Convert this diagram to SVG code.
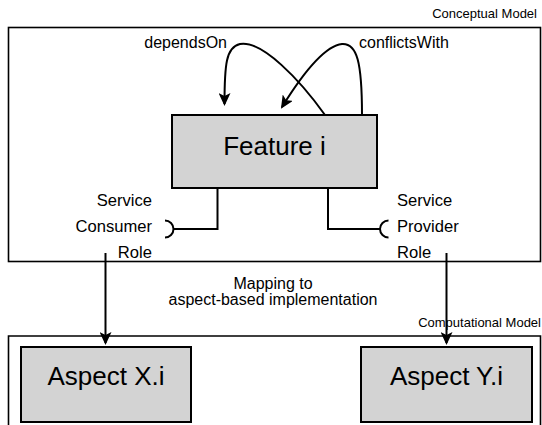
<svg xmlns="http://www.w3.org/2000/svg" width="542" height="425" viewBox="0 0 542 425">
  <style>
    .frame { fill: #ffffff; stroke: #000000; stroke-width: 1.6; }
    .node rect { fill: #d3d3d3; stroke: #000000; stroke-width: 2; }
    .title { font-family: "Liberation Sans", Arial, sans-serif; font-size: 26px; fill: #000000; text-anchor: middle; }
    .label { font-family: "Liberation Sans", Arial, sans-serif; font-size: 16px; fill: #000000; }
    .role { font-size: 16.6px; }
    .small { font-family: "Liberation Sans", Arial, sans-serif; font-size: 13px; fill: #000000; text-anchor: end; }
    .edge { fill: none; stroke: #000000; stroke-width: 2; }
  </style>
  <defs>
    <marker id="arrow" markerUnits="userSpaceOnUse" markerWidth="14" markerHeight="12" refX="11" refY="6" orient="auto">
      <path d="M0,0 L13,6 L0,12 L3,6 z" fill="#000000"/>
    </marker>
  </defs>

  <!-- model frames -->
  <g id="conceptual-model">
    <rect class="frame" x="8.5" y="27.5" width="532" height="234"/>
    <text class="small" x="537" y="18">Conceptual Model</text>
  </g>
  <g id="computational-model">
    <path class="frame" d="M8.5,432 V336 H540.5 V432"/>
    <text class="small" x="541" y="327">Computational Model</text>
  </g>

  <!-- nodes -->
  <g id="feature" class="node">
    <rect x="172" y="115" width="205" height="73"/>
    <text class="title" x="274.5" y="155">Feature i</text>
  </g>
  <g id="aspect-x" class="node">
    <rect x="21" y="347" width="170" height="75"/>
    <text class="title" x="106" y="385">Aspect X.i</text>
  </g>
  <g id="aspect-y" class="node">
    <rect x="361" y="347" width="171" height="75"/>
    <text class="title" x="446.5" y="385">Aspect Y.i</text>
  </g>

  <!-- role labels -->
  <g id="consumer-role">
    <text class="label role" x="152" y="206" text-anchor="end">Service</text>
    <text class="label role" x="152" y="232" text-anchor="end">Consumer</text>
    <text class="label role" x="152" y="258" text-anchor="end">Role</text>
  </g>
  <g id="provider-role">
    <text class="label role" x="397" y="206">Service</text>
    <text class="label role" x="397" y="232">Provider</text>
    <text class="label role" x="397" y="258">Role</text>
  </g>

  <!-- connectors -->
  <g id="connectors">
    <!-- self relations on the feature -->
    <path class="edge" d="M325,115 C300,80 262,40 240,44 C226,47 224.5,65 224.5,104" marker-end="url(#arrow)"/>
    <path class="edge" d="M362,115 C362,62 357,43 342,44 C323,46 300,78 282,107" marker-end="url(#arrow)"/>
    <text class="label" x="227" y="48" text-anchor="end" font-size="15">dependsOn</text>
    <text class="label" x="359" y="48" font-size="15">conflictsWith</text>

    <!-- required / provided interface ports -->
    <path class="edge" d="M217.5,188 V229 H173.5"/>
    <path class="edge" d="M165,220.5 A8.5,8.5 0 0 1 165,237.5"/>
    <path class="edge" d="M328,188 V229 H380.5"/>
    <path class="edge" d="M388.5,220.5 A8.5,8.5 0 0 0 388.5,237.5"/>

    <!-- mapping to the aspect implementation -->
    <path class="edge" d="M105.5,253 V343" marker-end="url(#arrow)"/>
    <path class="edge" d="M446.5,253 V343" marker-end="url(#arrow)"/>
    <text class="label" x="273" y="289" text-anchor="middle">Mapping to</text>
    <text class="label" x="273" y="305" text-anchor="middle">aspect-based implementation</text>
  </g>
</svg>
